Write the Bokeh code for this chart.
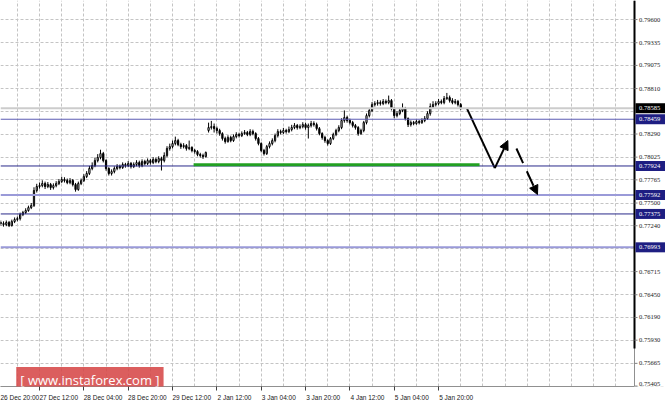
from bokeh.plotting import figure
from bokeh.models import (Range1d, FixedTicker, Span, Label,
                          Arrow, NormalHead, BoxAnnotation, ColumnDataSource)
from bokeh.embed import file_html
from bokeh.resources import INLINE

# ---------------- data ----------------
bar_start = 2            # index of first bar (bars counted in hours from 26 Dec 20:00)
first_open = 0.77277
gap_opens = {77: 0.78330}  # new-year gap

closes = [
    0.77265, 0.77254, 0.77277, 0.77242, 0.77288, 0.77311, 0.77322, 0.77368, 0.77391, 0.77414, 0.77448, 0.77471,
    0.77643, 0.77689, 0.77700, 0.77723, 0.77689, 0.77712, 0.77677, 0.77700, 0.77723, 0.77746, 0.77769, 0.77757,
    0.77734, 0.77757, 0.77712, 0.77654, 0.77723, 0.77757, 0.77803, 0.77838, 0.77895, 0.77929, 0.77986, 0.78021,
    0.78066, 0.77986, 0.77895, 0.77838, 0.77860, 0.77895, 0.77918, 0.77906, 0.77941, 0.77929, 0.77952, 0.77918,
    0.77941, 0.77963, 0.77929, 0.77975, 0.77952, 0.77986, 0.77963, 0.77998, 0.77975, 0.78009, 0.77986, 0.78044,
    0.78124, 0.78146, 0.78181, 0.78215, 0.78169, 0.78146, 0.78158, 0.78124, 0.78135, 0.78101, 0.78089, 0.78055,
    0.78044, 0.78032, 0.78078, 0.78364, 0.78375, 0.78352, 0.78330, 0.78295, 0.78238, 0.78204, 0.78250, 0.78215,
    0.78261, 0.78284, 0.78272, 0.78295, 0.78307, 0.78284, 0.78318, 0.78295, 0.78238, 0.78181, 0.78101, 0.78066,
    0.78146, 0.78181, 0.78215, 0.78272, 0.78318, 0.78307, 0.78330, 0.78318, 0.78341, 0.78364, 0.78387, 0.78364,
    0.78375, 0.78398, 0.78364, 0.78387, 0.78410, 0.78398, 0.78352, 0.78295, 0.78250, 0.78215, 0.78181, 0.78238,
    0.78284, 0.78330, 0.78364, 0.78444, 0.78478, 0.78444, 0.78421, 0.78387, 0.78364, 0.78295, 0.78330, 0.78421,
    0.78501, 0.78559, 0.78627, 0.78639, 0.78650, 0.78639, 0.78662, 0.78650, 0.78673, 0.78582, 0.78501, 0.78524,
    0.78559, 0.78582, 0.78467, 0.78398, 0.78421, 0.78410, 0.78433, 0.78421, 0.78444, 0.78467, 0.78524, 0.78604,
    0.78627, 0.78639, 0.78662, 0.78650, 0.78696, 0.78707, 0.78673, 0.78650, 0.78662, 0.78627, 0.78585,
]
highs = [
    0.77300, 0.77290, 0.77300, 0.77295, 0.77310, 0.77335, 0.77345, 0.77390, 0.77410, 0.77440, 0.77470, 0.77500,
    0.77680, 0.77720, 0.77735, 0.77760, 0.77745, 0.77740, 0.77730, 0.77725, 0.77750, 0.77775, 0.77800, 0.77795,
    0.77780, 0.77785, 0.77775, 0.77730, 0.77745, 0.77780, 0.77830, 0.77865, 0.77925, 0.77965, 0.78020, 0.78060,
    0.78110, 0.78085, 0.78000, 0.77910, 0.77885, 0.77920, 0.77945, 0.77940, 0.77965, 0.77960, 0.77980, 0.77970,
    0.77965, 0.77990, 0.77985, 0.78000, 0.77995, 0.78010, 0.78005, 0.78025, 0.78020, 0.78035, 0.78030, 0.78080,
    0.78150, 0.78180, 0.78215, 0.78260, 0.78235, 0.78190, 0.78185, 0.78175, 0.78215, 0.78150, 0.78120, 0.78105,
    0.78075, 0.78065, 0.78090, 0.78420, 0.78440, 0.78410, 0.78375, 0.78350, 0.78310, 0.78260, 0.78275, 0.78270,
    0.78285, 0.78310, 0.78305, 0.78320, 0.78335, 0.78325, 0.78345, 0.78340, 0.78310, 0.78255, 0.78195, 0.78120,
    0.78165, 0.78205, 0.78240, 0.78295, 0.78345, 0.78340, 0.78360, 0.78350, 0.78375, 0.78395, 0.78415, 0.78405,
    0.78400, 0.78425, 0.78420, 0.78410, 0.78440, 0.78435, 0.78420, 0.78370, 0.78310, 0.78270, 0.78230, 0.78255,
    0.78305, 0.78350, 0.78390, 0.78470, 0.78560, 0.78500, 0.78465, 0.78440, 0.78405, 0.78380, 0.78350, 0.78440,
    0.78525, 0.78585, 0.78655, 0.78665, 0.78680, 0.78675, 0.78690, 0.78685, 0.78730, 0.78690, 0.78600, 0.78550,
    0.78585, 0.78640, 0.78600, 0.78480, 0.78445, 0.78440, 0.78455, 0.78450, 0.78470, 0.78495, 0.78550, 0.78640,
    0.78665, 0.78665, 0.78690, 0.78685, 0.78725, 0.78760, 0.78730, 0.78700, 0.78690, 0.78680, 0.78645,
]
lows = [
    0.77240, 0.77230, 0.77235, 0.77225, 0.77230, 0.77270, 0.77290, 0.77300, 0.77350, 0.77375, 0.77400, 0.77430,
    0.77455, 0.77620, 0.77665, 0.77680, 0.77660, 0.77670, 0.77650, 0.77655, 0.77680, 0.77705, 0.77730, 0.77735,
    0.77715, 0.77715, 0.77690, 0.77630, 0.77640, 0.77705, 0.77740, 0.77785, 0.77820, 0.77875, 0.77910, 0.77965,
    0.78000, 0.77965, 0.77870, 0.77815, 0.77815, 0.77840, 0.77875, 0.77885, 0.77890, 0.77905, 0.77910, 0.77895,
    0.77900, 0.77920, 0.77905, 0.77910, 0.77930, 0.77935, 0.77940, 0.77945, 0.77955, 0.77955, 0.77872, 0.77965,
    0.78025, 0.78100, 0.78125, 0.78160, 0.78150, 0.78120, 0.78125, 0.78100, 0.78105, 0.78080, 0.78065, 0.78035,
    0.78020, 0.78005, 0.78020, 0.78307, 0.78341, 0.78307, 0.78295, 0.78270, 0.78215, 0.78180, 0.78190, 0.78195,
    0.78200, 0.78240, 0.78250, 0.78255, 0.78280, 0.78265, 0.78265, 0.78275, 0.78215, 0.78160, 0.78080, 0.78044,
    0.78050, 0.78125, 0.78160, 0.78195, 0.78250, 0.78285, 0.78290, 0.78295, 0.78300, 0.78320, 0.78345, 0.78340,
    0.78345, 0.78355, 0.78340, 0.78238, 0.78365, 0.78375, 0.78330, 0.78275, 0.78225, 0.78190, 0.78158, 0.78165,
    0.78220, 0.78265, 0.78310, 0.78345, 0.78420, 0.78420, 0.78400, 0.78365, 0.78340, 0.78270, 0.78280, 0.78310,
    0.78400, 0.78480, 0.78540, 0.78605, 0.78615, 0.78615, 0.78620, 0.78630, 0.78630, 0.78560, 0.78470, 0.78480,
    0.78505, 0.78540, 0.78445, 0.78370, 0.78375, 0.78390, 0.78395, 0.78400, 0.78405, 0.78425, 0.78450, 0.78500,
    0.78585, 0.78605, 0.78620, 0.78630, 0.78630, 0.78680, 0.78650, 0.78630, 0.78630, 0.78605, 0.78565,
]

time_label_bars = [0, 16, 32, 48, 64, 80, 96, 112, 128, 144, 160]
time_labels = ["26 Dec 20:00", "27 Dec 12:00", "28 Dec 04:00", "28 Dec 20:00", "29 Dec 12:00",
               "2 Jan 12:00", "3 Jan 04:00", "3 Jan 20:00", "4 Jan 12:00", "5 Jan 04:00", "5 Jan 20:00"]
grid_bars = list(range(0, 230, 8))

price_ticks = [0.79600, 0.79335, 0.79075, 0.78810, 0.78290, 0.78025, 0.77765, 0.77500, 0.77240,
               0.76715, 0.76450, 0.76190, 0.75930, 0.75665, 0.75405]
hidden_grid_prices = [0.78550, 0.76980]

levels = [0.78459, 0.77924, 0.77592, 0.77375, 0.76993]
level_colors = ["#5c5cb4", "#2a2a8a", "#9a9ad8", "#2a2a8a", "#9a9ad8"]
level_widths = [1, 1, 2, 1, 2]
current_price = 0.78585

support_x = [71.6, 174.8]
support_price = 0.77937
path_x = [170.3, 180.3, 185.0]
path_y = [0.78578, 0.77900, 0.78215]
dash_x = [188.1, 195.7]
dash_y = [0.78124, 0.77597]

# ---------------- layout ----------------
W, FRAME_H, AXIS_H = 665, 386, 17
x_start, x_plot_end = 1.913, 230.71          # chart area, scale column lies to the right
y_bottom, y_top = 0.75400, 0.79818
ppb = 634 / (x_plot_end - x_start)           # pixels per bar
x_end = x_start + W / ppb
font = "Liberation Sans"
fsize = "6.5px"
navy = "#1e1e82"

p = figure(frame_width=W, frame_height=FRAME_H,
           x_range=Range1d(x_start, x_end), y_range=Range1d(y_bottom, y_top),
           x_axis_location="below", y_axis_location=None,
           output_backend="svg", toolbar_location=None,
           min_border_left=0, min_border_top=0, min_border_right=0, min_border_bottom=AXIS_H,
           background_fill_color="white", border_fill_color="white", outline_line_color=None)

# grid
p.xgrid.ticker = FixedTicker(ticks=grid_bars)
p.ygrid.ticker = FixedTicker(ticks=price_ticks + hidden_grid_prices)
p.grid.grid_line_color = "#c4c4c4"
p.grid.grid_line_dash = "3 2"
p.grid.grid_line_width = 1

# x axis: labels start at their tick (MT4 style)
char_w = 3.2
centers = [round(b + len(t) * char_w / 2 / ppb, 2) for b, t in zip(time_label_bars, time_labels)]
p.xaxis.bounds = (x_start, x_plot_end)
p.xaxis.ticker = FixedTicker(ticks=centers, minor_ticks=time_label_bars)
p.xaxis.major_label_overrides = {c: t for c, t in zip(centers, time_labels)}
p.xaxis.major_tick_out = 0
p.xaxis.major_tick_in = 0
p.xaxis.minor_tick_out = 4
p.xaxis.minor_tick_in = 0
p.xaxis.minor_tick_line_color = "#404040"
p.xaxis.axis_line_color = "#909090"
p.xaxis.major_label_standoff = 3
p.xaxis.major_label_text_font = font
p.xaxis.major_label_text_font_size = fsize
p.xaxis.major_label_text_color = "#202020"

# level lines
p.add_layout(Span(location=current_price, dimension="width", line_color="#cccccc", line_width=2))
for lv, c, w in zip(levels, level_colors, level_widths):
    p.add_layout(Span(location=lv, dimension="width", line_color=c, line_width=w))

# candles
xs = list(range(bar_start, bar_start + len(closes)))
opens = [first_open] + closes[:-1]
for b, o in gap_opens.items():
    opens[b - bar_start] = o
src = ColumnDataSource(dict(
    x=xs, high=highs, low=lows,
    top=[max(o, c) for o, c in zip(opens, closes)],
    bottom=[min(o, c) for o, c in zip(opens, closes)],
    fill=["white" if c >= o else "black" for o, c in zip(opens, closes)],
))
p.segment(x0="x", y0="low", x1="x", y1="high", source=src, line_color="black", line_width=1)
p.vbar(x="x", width=0.45, top="top", bottom="bottom", source=src,
       fill_color="fill", line_color="black", line_width=1)

# support line
p.line(support_x, [support_price] * len(support_x), line_color="#22a022", line_width=3, level="overlay")

# forecast arrows
p.line(path_x[:2], path_y[:2], line_color="black", line_width=2)
p.add_layout(Arrow(end=NormalHead(size=9, fill_color="black", line_color="black"),
                   x_start=path_x[1], y_start=path_y[1], x_end=path_x[2], y_end=path_y[2],
                   line_color="black", line_width=2))
p.add_layout(Arrow(end=NormalHead(size=9, fill_color="black", line_color="black"),
                   x_start=dash_x[0], y_start=dash_y[0], x_end=dash_x[1], y_end=dash_y[1],
                   line_color="black", line_width=2, line_dash="16 9"))

# price-scale column
p.add_layout(BoxAnnotation(left=x_plot_end, fill_color="white", fill_alpha=1, line_color=None))
p.add_layout(Span(location=x_plot_end, dimension="height", line_color="#909090", line_width=1))
p.add_layout(BoxAnnotation(left=x_plot_end - 1 / ppb, right=x_plot_end + 1 / ppb, bottom=0.75834,
                           fill_color="black", fill_alpha=1, line_color=None))
p.segment(x0=[x_plot_end] * len(price_ticks), x1=[x_plot_end + 3 / ppb] * len(price_ticks),
          y0=price_ticks, y1=price_ticks, line_color="#808080", line_width=1, level="overlay")
label_x = x_plot_end + 4.5 / ppb
p.text(x=[label_x] * (len(price_ticks) - 1), y=price_ticks[:-1],
       text=[f"{v:.5f}" for v in price_ticks[:-1]],
       text_font=font, text_font_size=fsize, text_color="#202020",
       text_align="left", text_baseline="middle", level="overlay")
p.text(x=[label_x], y=price_ticks[-1:], text=[f"{v:.5f}" for v in price_ticks[-1:]],
       text_font=font, text_font_size=fsize, text_color="#202020",
       text_align="left", text_baseline="bottom", level="overlay")

box_cx = x_plot_end + 16 / ppb
box_prices = [current_price] + levels
box_colors = ["black"] + [navy] * len(levels)
p.rect(x=[box_cx] * len(box_prices), y=box_prices, width=30, height=10,
       width_units="screen", height_units="screen",
       fill_color=box_colors, line_color=None, level="overlay")
p.text(x=[label_x] * len(box_prices), y=box_prices, text=[f"{v:.5f}" for v in box_prices],
       text_font=font, text_font_size=fsize, text_color="white",
       text_align="left", text_baseline="middle", level="overlay")

# watermark
p.add_layout(Label(x=7.6, y=0.75474, text="[ www.instaforex.com ]", text_font="Open Sans",
                   text_font_size="13px", text_color="white", text_align="left", text_baseline="middle",
                   background_fill_color="#d64848", background_fill_alpha=0.88, padding=4))

open("out.html", "w").write(file_html(p, INLINE))
